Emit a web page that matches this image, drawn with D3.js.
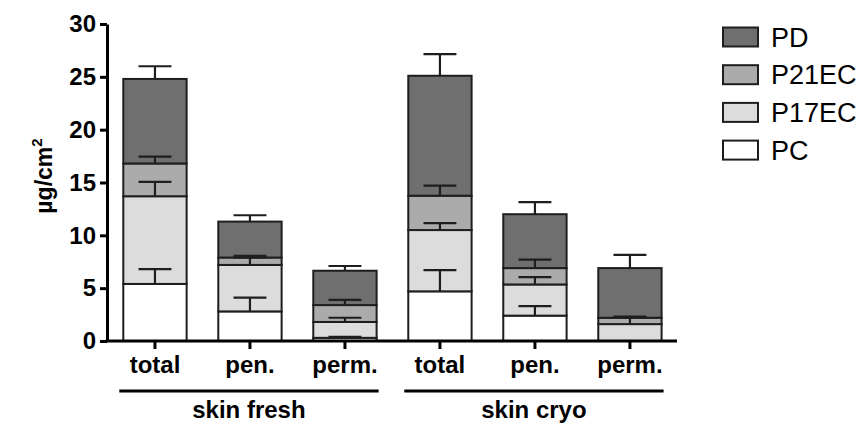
<!DOCTYPE html>
<html>
<head>
<meta charset="utf-8">
<script src="https://cdn.jsdelivr.net/npm/d3@7"></script>
<style>
  html, body { margin: 0; padding: 0; background: #fff; }
  svg { display: block; font-family: "Liberation Sans", Arial, Helvetica, sans-serif; }
</style>
</head>
<body>
<svg id="chart" width="861" height="425"></svg>
<script>
// Sample positions along the x axis, and the two skin preparations they belong to
const categories = ["total", "pen.", "perm.", "total", "pen.", "perm."];
const groups = ["skin fresh", "skin cryo"];
const groupMembers = [[0, 1, 2], [3, 4, 5]];

// Stacked compounds, bottom to top (µg/cm²)
const seriesNames = ["PC", "P17EC", "P21EC", "PD"];
const PC     = [5.4, 2.8, 0.3, 4.7, 2.4, 0.0];
const P17EC  = [8.3, 4.4, 1.5, 5.8, 2.95, 1.6];
const P21EC  = [3.1, 0.7, 1.6, 3.25, 1.55, 0.6];
const PD     = [8.0, 3.4, 3.25, 11.35, 5.1, 4.7];

// Upward error bar lengths for each stacked segment
const PC_err    = [1.4, 1.3, 0.1, 2.0, 0.9, 0.0];
const P17EC_err = [1.35, 0.7, 0.4, 0.65, 0.7, 0.65];
const P21EC_err = [0.65, 0.15, 0.5, 0.95, 0.8, 0.1];
const PD_err    = [1.2, 0.6, 0.45, 2.05, 1.15, 1.25];

const yTicks = [0, 5, 10, 15, 20, 25, 30];

const seriesValues = [PC, P17EC, P21EC, PD];
const seriesErrors = [PC_err, P17EC_err, P21EC_err, PD_err];
const fills = ["#ffffff", "#dcdcdc", "#ababab", "#6f6f6f"];

const svg = d3.select("#chart");

const axisX = 107, axisRight = 677;
const y = d3.scaleLinear().domain([0, 30]).range([341, 24]);
const x = d3.scaleBand()
  .domain(d3.range(categories.length))
  .range([123.3, 661.6])
  .paddingInner(1 / 3)
  .paddingOuter(0);

// Build the stack from the named arrays
const rows = categories.map((c, i) => {
  const r = { idx: i };
  seriesNames.forEach((s, k) => { r[s] = seriesValues[k][i]; });
  return r;
});
const stacked = d3.stack().keys(seriesNames)(rows);

const ink = "#1e1e1e";

// Bars
const layers = svg.append("g").selectAll("g")
  .data(stacked)
  .join("g")
  .attr("fill", (d, k) => fills[k]);

layers.selectAll("rect")
  .data(d => d.filter(p => p[1] - p[0] > 0))
  .join("rect")
  .attr("x", p => x(p.data.idx))
  .attr("width", x.bandwidth())
  .attr("y", p => y(p[1]))
  .attr("height", p => y(p[0]) - y(p[1]))
  .attr("stroke", ink)
  .attr("stroke-width", 2);

// Error bars on top of each segment
const capW = x.bandwidth() * 0.52;
const errG = svg.append("g").attr("stroke", ink).attr("stroke-width", 2.2).attr("fill", "none");
stacked.forEach((layer, k) => {
  layer.forEach(p => {
    const i = p.data.idx;
    const e = seriesErrors[k][i];
    if (p[1] - p[0] <= 0 || e <= 0) return;
    const cx = x(i) + x.bandwidth() / 2;
    errG.append("line").attr("x1", cx).attr("x2", cx).attr("y1", y(p[1])).attr("y2", y(p[1] + e));
    errG.append("line").attr("x1", cx - capW / 2).attr("x2", cx + capW / 2)
      .attr("y1", y(p[1] + e)).attr("y2", y(p[1] + e));
  });
});

// Y axis
const yAxis = svg.append("g")
  .attr("transform", `translate(${axisX},0)`)
  .call(d3.axisLeft(y).tickValues(yTicks).tickSize(7).tickSizeOuter(0).tickPadding(4));
yAxis.select(".domain").attr("stroke", "#000").attr("stroke-width", 3);
yAxis.selectAll(".tick line").attr("stroke", "#000").attr("stroke-width", 3);
yAxis.selectAll(".tick text")
  .attr("fill", "#000")
  .attr("font-size", 24)
  .attr("font-weight", "bold")
  .attr("font-family", "Liberation Sans, Arial, sans-serif");

// X axis: ticks from the band scale, baseline drawn across the full width
const xAxis = svg.append("g")
  .attr("transform", `translate(0,${y(0)})`)
  .call(d3.axisBottom(x).tickSize(8).tickPadding(7).tickFormat(i => categories[i]));
xAxis.select(".domain").remove();
xAxis.selectAll(".tick line").attr("stroke", "#000").attr("stroke-width", 3);
xAxis.selectAll(".tick text")
  .attr("fill", "#000")
  .attr("font-size", 24)
  .attr("font-weight", "bold")
  .attr("font-family", "Liberation Sans, Arial, sans-serif");
svg.append("line")
  .attr("x1", axisX - 1.5).attr("x2", axisRight)
  .attr("y1", y(0)).attr("y2", y(0))
  .attr("stroke", "#000").attr("stroke-width", 3);

// Group brackets and names
groups.forEach((g, j) => {
  const mem = groupMembers[j];
  const x0 = x(mem[0]) - 4;
  const x1 = x(mem[mem.length - 1]) + x.bandwidth() + 2;
  svg.append("line")
    .attr("x1", x0).attr("x2", x1).attr("y1", 391).attr("y2", 391)
    .attr("stroke", "#000").attr("stroke-width", 3);
  svg.append("text")
    .attr("x", (x0 + x1) / 2).attr("y", 418)
    .attr("text-anchor", "middle")
    .attr("font-size", 24).attr("font-weight", "bold")
    .text(g);
});

// Y axis title
const yTitle = svg.append("text")
  .attr("transform", "translate(52,176) rotate(-90)")
  .attr("text-anchor", "middle")
  .attr("font-size", 23).attr("font-weight", "bold");
yTitle.append("tspan").text("µg/cm");
yTitle.append("tspan").attr("font-size", 15).attr("dy", -10).text("2");

// Legend, top entry = top of stack
const legend = svg.append("g");
const legendOrder = [3, 2, 1, 0];
legendOrder.forEach((k, r) => {
  const cy = 37 + r * 37.7;
  legend.append("rect")
    .attr("x", 723).attr("y", cy - 9.5).attr("width", 35).attr("height", 19)
    .attr("fill", fills[k]).attr("stroke", ink).attr("stroke-width", 2);
  legend.append("text")
    .attr("x", 771).attr("y", cy + 9.5)
    .attr("font-size", 27)
    .text(seriesNames[k]);
});
</script>
</body>
</html>
